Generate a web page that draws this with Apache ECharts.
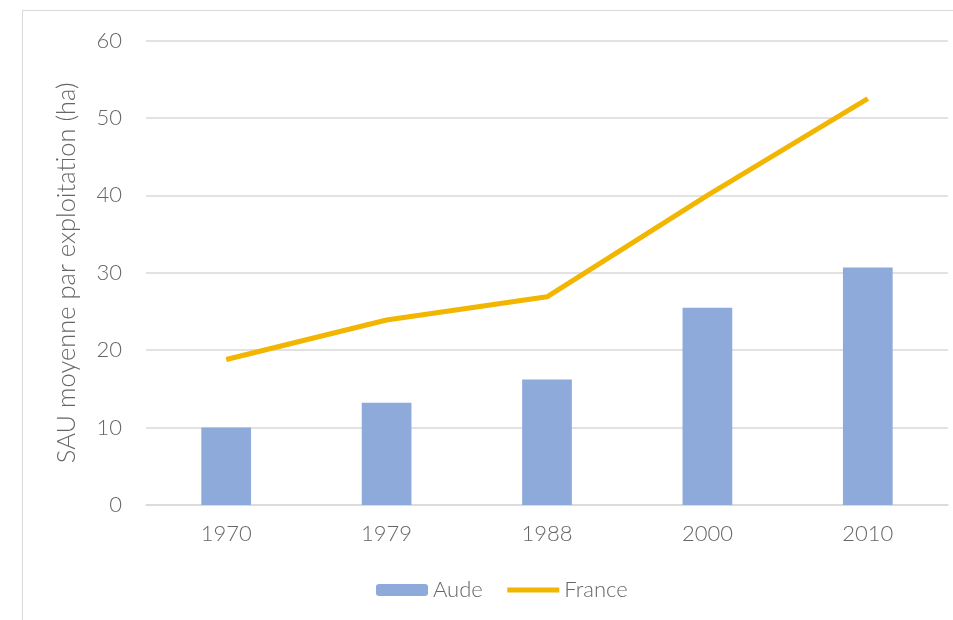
<!DOCTYPE html>
<html>
<head>
<meta charset="utf-8">
<script src="https://cdn.jsdelivr.net/npm/echarts@6/dist/echarts.min.js"></script>
<style>
    body { margin: 0; background: #fff; }
    #frame { position: absolute; left: 22px; top: 10px; width: 940px; height: 610px; border-left: 1px solid #d9d9d9; border-top: 1px solid #d9d9d9; }
</style>
</head>
<body>
<div id="frame"></div>
<div id="main" style="position:absolute;left:0;top:0;width: 953px;height:620px;"></div>
<script type="text/javascript">
    var years = ['1970', '1979', '1988', '2000', '2010'];
    var aude = [10.0, 13.2, 16.2, 25.5, 30.7];
    var france = [18.8, 23.9, 26.9, 40.0, 52.5];
    var yTicks = [0, 10, 20, 30, 40, 50, 60];

    var myChart = echarts.init(document.getElementById('main'));
    var font = 'Lato';
    var grey = '#666666';
    var option = {
        textStyle: { fontFamily: font },
        grid: { left: 146, right: 5, top: 40.6, bottom: 115 },
        legend: {
            data: ['Aude', { name: 'France', itemStyle: { opacity: 0 }, lineStyle: { width: 5 } }],
            bottom: 14,
            left: 371,
            itemWidth: 52,
            itemHeight: 12,
            itemGap: 22,
            textStyle: { fontSize: 22, color: grey, fontFamily: font, fontWeight: 300 }
        },
        xAxis: {
            type: 'category',
            data: years,
            axisTick: { show: false },
            axisLine: { lineStyle: { color: '#d9d9d9', width: 1.5 } },
            axisLabel: { fontSize: 22, color: grey, fontWeight: 300, margin: 18 }
        },
        yAxis: {
            type: 'value',
            min: yTicks[0],
            max: yTicks[yTicks.length - 1],
            interval: 10,
            name: 'SAU moyenne par exploitation (ha)',
            nameLocation: 'middle',
            nameRotate: 90,
            nameGap: 66,
            nameTextStyle: { fontSize: 25.5, color: grey, fontWeight: 300 },
            axisLabel: { fontSize: 22, color: grey, fontWeight: 300, margin: 24 },
            splitLine: { lineStyle: { color: '#d9d9d9', width: 1.5 } }
        },
        series: [{
            name: 'Aude',
            type: 'bar',
            data: aude,
            barWidth: '31%',
            itemStyle: { color: '#8eaadb' }
        }, {
            name: 'France',
            type: 'line',
            data: france,
            symbol: 'none',
            lineStyle: { color: '#f2b600', width: 5 },
            itemStyle: { color: '#f2b600' }
        }]
    };
    myChart.setOption(option);
</script>
</body>
</html>
